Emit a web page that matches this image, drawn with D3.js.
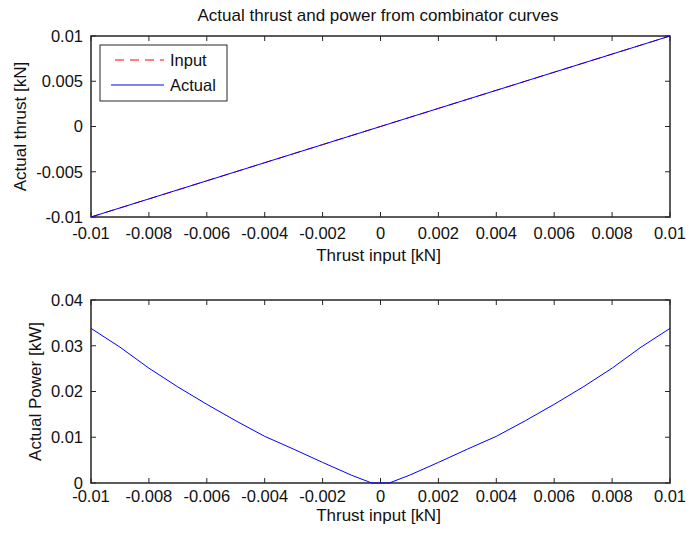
<!DOCTYPE html>
<html>
<head>
<meta charset="utf-8">
<script src="https://cdn.jsdelivr.net/npm/d3@7"></script>
<style>
  body { margin: 0; background: #fff; }
  svg { display: block; font-family: "Liberation Sans", Arial, sans-serif; }
</style>
</head>
<body>
<svg id="chart" width="687" height="538"></svg>
<script>
// x ticks shared by both panels
const xTicks = [-0.01, -0.008, -0.006, -0.004, -0.002, 0, 0.002, 0.004, 0.006, 0.008, 0.01];
const xTickLabels = ['-0.01', '-0.008', '-0.006', '-0.004', '-0.002', '0', '0.002', '0.004', '0.006', '0.008', '0.01'];

// top panel: thrust
const thrustYTicks = [-0.01, -0.005, 0, 0.005, 0.01];
const thrustYTickLabels = ['-0.01', '-0.005', '0', '0.005', '0.01'];
const thrustInput = [-0.01, -0.009, -0.008, -0.007, -0.006, -0.005, -0.004, -0.003, -0.002, -0.001, 0,
  0.001, 0.002, 0.003, 0.004, 0.005, 0.006, 0.007, 0.008, 0.009, 0.01];
const thrustRef = [-0.01, -0.009, -0.008, -0.007, -0.006, -0.005, -0.004, -0.003, -0.002, -0.001, 0,
  0.001, 0.002, 0.003, 0.004, 0.005, 0.006, 0.007, 0.008, 0.009, 0.01];
const thrustActual = [-0.01, -0.009, -0.008, -0.007, -0.006, -0.005, -0.004, -0.003, -0.002, -0.001, 0,
  0.001, 0.002, 0.003, 0.004, 0.005, 0.006, 0.007, 0.008, 0.009, 0.01];

// bottom panel: power
const powerYTicks = [0, 0.01, 0.02, 0.03, 0.04];
const powerYTickLabels = ['0', '0.01', '0.02', '0.03', '0.04'];
const powerThrust = [-0.01, -0.009, -0.008, -0.007, -0.006, -0.005, -0.004, -0.003, -0.002, -0.001, -0.0003,
  0.0003, 0.001, 0.002, 0.003, 0.004, 0.005, 0.006, 0.007, 0.008, 0.009, 0.01];
const powerActual = [0.0338, 0.0297, 0.0251, 0.0210, 0.0172, 0.0136, 0.0102, 0.0074, 0.0045, 0.0017, 0,
  0, 0.0017, 0.0045, 0.0074, 0.0102, 0.0136, 0.0172, 0.0210, 0.0251, 0.0297, 0.0338];

const svg = d3.select('#chart');
const axisColor = '#262626';
const left = 91, right = 670;

function drawPanel({ top, bottom, yDomain, yTicks, yTickLabels, xLabelY, xTickY, yLabel, yLabelX }) {
  const g = svg.append('g');
  const x = d3.scaleLinear([-0.01, 0.01], [left, right]);
  const y = d3.scaleLinear(yDomain, [bottom, top]);
  const tick = 5;

  g.append('rect')
    .attr('x', left).attr('y', top)
    .attr('width', right - left).attr('height', bottom - top)
    .attr('fill', '#fff').attr('stroke', axisColor).attr('stroke-width', 1.5);

  // inward ticks on all four sides
  const ticks = g.append('g').attr('stroke', axisColor).attr('stroke-width', 1);
  xTicks.forEach(v => {
    ticks.append('line').attr('x1', x(v)).attr('x2', x(v)).attr('y1', bottom).attr('y2', bottom - tick);
    ticks.append('line').attr('x1', x(v)).attr('x2', x(v)).attr('y1', top).attr('y2', top + tick);
  });
  yTicks.forEach(v => {
    ticks.append('line').attr('x1', left).attr('x2', left + tick).attr('y1', y(v)).attr('y2', y(v));
    ticks.append('line').attr('x1', right).attr('x2', right - tick).attr('y1', y(v)).attr('y2', y(v));
  });

  g.append('g').selectAll('text')
    .data(xTicks)
    .join('text')
      .attr('x', d => x(d))
      .attr('y', xTickY)
      .attr('text-anchor', 'middle')
      .attr('font-size', 16.5)
      .attr('fill', '#111')
      .text((d, i) => xTickLabels[i]);

  g.append('g').selectAll('text')
    .data(yTicks)
    .join('text')
      .attr('x', left - 8)
      .attr('y', d => y(d))
      .attr('dy', '0.36em')
      .attr('text-anchor', 'end')
      .attr('font-size', 16.5)
      .attr('fill', '#111')
      .text((d, i) => yTickLabels[i]);

  g.append('text')
    .attr('x', (left + right) / 2 - 2)
    .attr('y', xLabelY)
    .attr('text-anchor', 'middle')
    .attr('font-size', 17)
    .attr('fill', '#111')
    .text('Thrust input [kN]');

  g.append('text')
    .attr('transform', `translate(${yLabelX},${(top + bottom) / 2}) rotate(-90)`)
    .attr('text-anchor', 'middle')
    .attr('font-size', 17)
    .attr('fill', '#111')
    .text(yLabel);

  return { g, x, y };
}

// top panel
const p1 = drawPanel({
  top: 36, bottom: 217, yDomain: [-0.01, 0.01],
  yTicks: thrustYTicks, yTickLabels: thrustYTickLabels,
  xTickY: 239, xLabelY: 261, yLabel: 'Actual thrust [kN]', yLabelX: 26
});

const line1 = d3.line().x(d => p1.x(d[0])).y(d => p1.y(d[1]));
p1.g.append('path')
  .datum(d3.zip(thrustInput, thrustRef))
  .attr('d', line1)
  .attr('fill', 'none').attr('stroke', '#ff0000').attr('stroke-width', 1)
  .attr('stroke-dasharray', '9,6');
p1.g.append('path')
  .datum(d3.zip(thrustInput, thrustActual))
  .attr('d', line1)
  .attr('fill', 'none').attr('stroke', '#0000ff').attr('stroke-width', 1);

// legend
const legend = p1.g.append('g');
legend.append('rect')
  .attr('x', 100).attr('y', 45).attr('width', 127).attr('height', 56)
  .attr('fill', '#fff').attr('stroke', axisColor).attr('stroke-width', 1);
[{ name: 'Input', color: '#ff0000', dash: '9,6', x1: 115, y: 60 },
 { name: 'Actual', color: '#0000ff', dash: null, x1: 111, y: 85 }].forEach(d => {
  legend.append('line')
    .attr('x1', d.x1).attr('x2', 164).attr('y1', d.y).attr('y2', d.y)
    .attr('stroke', d.color).attr('stroke-width', 1)
    .attr('stroke-dasharray', d.dash);
  legend.append('text')
    .attr('x', 170).attr('y', d.y).attr('dy', '0.36em')
    .attr('font-size', 16.5).attr('fill', '#111')
    .text(d.name);
});

// bottom panel
const p2 = drawPanel({
  top: 300, bottom: 483, yDomain: [0, 0.04],
  yTicks: powerYTicks, yTickLabels: powerYTickLabels,
  xTickY: 502, xLabelY: 521, yLabel: 'Actual Power [kW]', yLabelX: 41
});

const line2 = d3.line().x(d => p2.x(d[0])).y(d => p2.y(d[1]));
p2.g.append('path')
  .datum(d3.zip(powerThrust, powerActual))
  .attr('d', line2)
  .attr('fill', 'none').attr('stroke', '#0000ff').attr('stroke-width', 1);

// title
svg.append('text')
  .attr('x', 378).attr('y', 21)
  .attr('text-anchor', 'middle')
  .attr('font-size', 17)
  .attr('fill', '#111')
  .text('Actual thrust and power from combinator curves');
</script>
</body>
</html>
